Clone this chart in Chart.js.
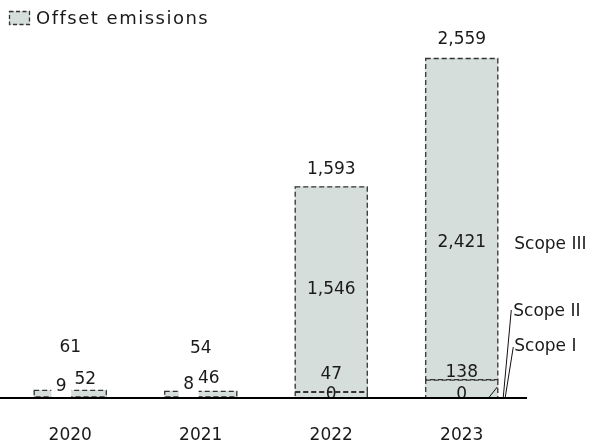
<!DOCTYPE html>
<html><head><meta charset="utf-8">
<script src="https://cdn.jsdelivr.net/npm/chart.js@4.4.1/dist/chart.umd.min.js"></script>
<style>html,body{margin:0;padding:0;background:#fff;}#wrap{width:603px;height:448px;}</style>
</head><body><div id="wrap"><canvas id="c" width="603" height="448"></canvas></div>
<script>
// ---- data ----
const years = ['2020', '2021', '2022', '2023'];
const scopeI = [null, null, 0, 0];
const scopeII = [9, 8, 47, 138];
const scopeIII = [52, 46, 1546, 2421];
const totals = [61, 54, 1593, 2559];
const seriesNames = ['Scope I', 'Scope II', 'Scope III'];
const legendLabel = 'Offset emissions';

// ---- styling / label placement (not data) ----
const FILL = '#d5dedb';
const EDGE = '#333333';
const TEXT = '#1a1a1a';
const FONT = '17px "DejaVu Sans"';
const nudges = {
  '0-2': [0, -3], '0-3': [0, -3],
  '1-0': [-9, -11, true], '1-1': [-12, -13, true], '1-2': [0, -20], '1-3': [0, -16],
  '2-0': [15, -14], '2-1': [8, -15], '2-2': [0, 1], '2-3': [0, 24]
};
const totalNudge = [-42, -42, -17, -18];
const fmt = v => v.toLocaleString('en-US');

const overlay = {
  id: 'overlay',
  afterDatasetsDraw(chart) {
    const ctx = chart.ctx;
    const area = chart.chartArea;
    const y = chart.scales.y;
    ctx.save();
    // dashed segment outlines
    ctx.strokeStyle = EDGE; ctx.lineWidth = 1.3; ctx.setLineDash([5, 3]);
    chart.data.datasets.forEach((ds, di) => {
      chart.getDatasetMeta(di).data.forEach((el, i) => {
        if (ds.data[i] === null) return;
        const h = el.base - el.y;
        if (h < 0.5) return;
        ctx.strokeRect(el.x - el.width / 2 + 0.5, el.y + 0.5, el.width - 1, h - 0.5);
      });
    });
    ctx.setLineDash([]);
    // segment labels
    ctx.font = FONT; ctx.textAlign = 'center'; ctx.textBaseline = 'middle';
    chart.data.datasets.forEach((ds, di) => {
      chart.getDatasetMeta(di).data.forEach((el, i) => {
        const v = ds.data[i];
        if (v === null) return;
        const n = nudges[di + '-' + i] || [0, 0];
        const tx = el.x + n[0], ty = (el.y + el.base) / 2 + n[1];
        const t = fmt(v);
        if (n[2]) {
          const w = ctx.measureText(t).width;
          ctx.fillStyle = '#ffffff';
          ctx.fillRect(tx - w / 2 - 4.5, ty - 13, w + 9, 26);
        }
        ctx.fillStyle = TEXT;
        ctx.fillText(t, tx, ty);
      });
    });
    // totals
    const top = chart.getDatasetMeta(2).data;
    totals.forEach((t, i) => {
      const el = top[i];
      ctx.fillStyle = TEXT;
      ctx.fillText(fmt(t), el.x, y.getPixelForValue(t) + totalNudge[i]);
    });
    // baseline
    const y0 = y.getPixelForValue(0);
    ctx.strokeStyle = '#000'; ctx.lineWidth = 2;
    ctx.beginPath(); ctx.moveTo(0, y0); ctx.lineTo(area.right, y0); ctx.stroke();
    // series names on the right with leader lines
    const last = top[3];
    const rx = last.x + last.width / 2;
    const l3 = chart.getDatasetMeta(2).data[3];
    ctx.textAlign = 'left';
    ctx.fillText(seriesNames[2], rx + 16, (l3.y + l3.base) / 2 + 26);
    ctx.fillText(seriesNames[1], rx + 15, y0 - 86);
    ctx.fillText(seriesNames[0], rx + 16, y0 - 51);
    ctx.strokeStyle = '#111'; ctx.lineWidth = 1;
    ctx.beginPath();
    ctx.moveTo(rx + 13, y0 - 88); ctx.lineTo(rx + 5, y0 - 1);
    ctx.moveTo(rx + 15, y0 - 51); ctx.lineTo(rx + 7, y0 - 1);
    ctx.moveTo(rx - 1, y0 - 11); ctx.lineTo(rx - 9, y0 - 1);
    ctx.stroke();
    // legend
    ctx.fillStyle = FILL; ctx.fillRect(9, 11, 21, 14);
    ctx.strokeStyle = EDGE; ctx.lineWidth = 1.3; ctx.setLineDash([4, 2.5]);
    ctx.strokeRect(9.5, 11.5, 20, 13);
    ctx.setLineDash([]);
    ctx.fillStyle = TEXT; ctx.textAlign = 'left';
    ctx.font = '18px "DejaVu Sans"';
    ctx.letterSpacing = '1.5px';
    ctx.fillText(legendLabel, 36, 19);
    ctx.letterSpacing = '0px';
    ctx.restore();
  }
};

new Chart(document.getElementById('c'), {
  type: 'bar',
  data: {
    labels: years,
    datasets: [
      { label: seriesNames[0], data: scopeI },
      { label: seriesNames[1], data: scopeII },
      { label: seriesNames[2], data: scopeIII }
    ].map(d => Object.assign(d, { backgroundColor: FILL, borderWidth: 0, barPercentage: 0.56, categoryPercentage: 1 }))
  },
  options: {
    responsive: false, animation: false, devicePixelRatio: 1,
    layout: { padding: { left: 5, right: 76, top: 26, bottom: 4 } },
    plugins: { legend: { display: false }, tooltip: { enabled: false } },
    scales: {
      x: { stacked: true, grid: { display: false, drawTicks: false }, border: { display: false },
           ticks: { color: TEXT, font: { family: 'DejaVu Sans', size: 17 }, padding: 27 },
           afterFit(s) { s.height = 46; } },
      y: { stacked: true, display: false, min: 0, max: 2800 }
    }
  },
  plugins: [overlay]
});
</script></body></html>
